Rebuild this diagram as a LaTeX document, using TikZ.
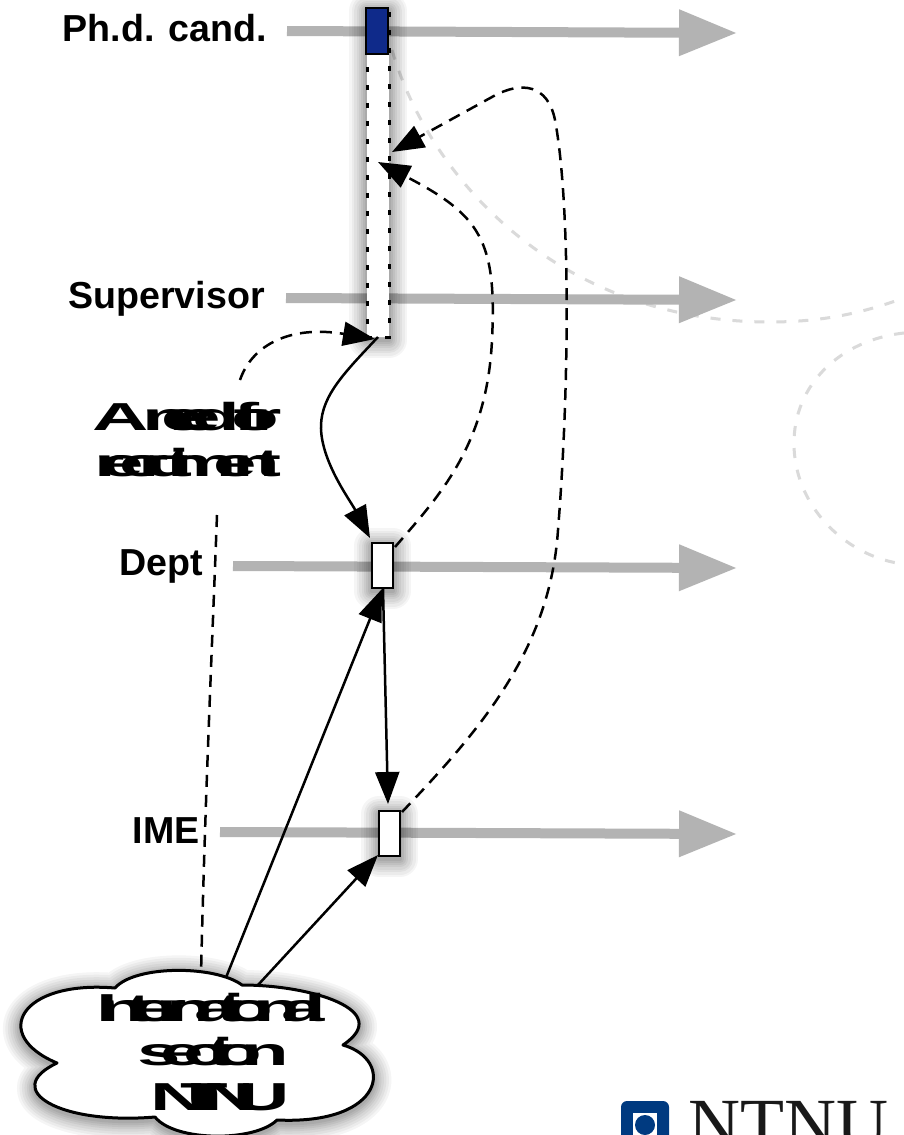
\documentclass[tikz,border=0pt]{standalone}
\usepackage{fontspec}
\usepackage{graphicx}
\setmainfont{Liberation Sans}
\newfontfamily\logofont{Liberation Serif}
\usetikzlibrary{arrows.meta}
\definecolor{flow}{HTML}{B3B3B3}
\definecolor{faint}{HTML}{DADADA}
\definecolor{actblue}{HTML}{0F2A8A}
\definecolor{ntnublue}{HTML}{003A80}
\newcommand{\squeezed}[2]{\scalebox{2}[1]{\addfontfeature{LetterSpace=#1}#2}}
\tikzset{
  x=1pt,y=-1pt,
  softshadow/.style={
    preaction={draw=black,solid,draw opacity=.04,line width=36pt,line join=round,transform canvas={yshift=-3pt}},
    preaction={draw=black,solid,draw opacity=.04,line width=31pt,line join=round,transform canvas={yshift=-3pt}},
    preaction={draw=black,solid,draw opacity=.045,line width=26pt,line join=round,transform canvas={yshift=-3pt}},
    preaction={draw=black,solid,draw opacity=.045,line width=21pt,line join=round,transform canvas={yshift=-3pt}},
    preaction={draw=black,solid,draw opacity=.05,line width=16pt,line join=round,transform canvas={yshift=-3pt}},
    preaction={draw=black,solid,draw opacity=.05,line width=12pt,line join=round,transform canvas={yshift=-3pt}},
    preaction={draw=black,solid,draw opacity=.055,line width=8pt,line join=round,transform canvas={yshift=-3pt}},
    preaction={draw=black,solid,draw opacity=.06,line width=4pt,line join=round,transform canvas={yshift=-3pt}}},
  flowarrow/.style={draw=flow,line width=10pt,-{Triangle[length=58pt,width=44pt,fill=flow]}},
  faintline/.style={draw=faint,line width=3pt,dash pattern=on 10pt off 12pt},
  msg/.style={draw=black,line width=2.5pt,-{Triangle[length=32pt,width=24pt,fill=black]}},
  dashmsg/.style={msg,dash pattern=on 12pt off 8pt},
  actbox/.style={draw=black,fill=white,line width=2.5pt,inner sep=0pt,minimum width=21pt,minimum height=45pt,rectangle,softshadow},
  rolelabel/.style={font=\fontsize{37.6}{37.6}\selectfont\bfseries,inner sep=0pt,anchor=base east},
  squeezelabel/.style={font=\fontsize{39}{39}\selectfont\bfseries,inner sep=0pt,anchor=base},
}
\begin{document}
\begin{tikzpicture}
\path[use as bounding box,clip] (0,0) rectangle (904,1135);
\fill[white] (0,0) rectangle (904,1135);

% faint background curves
\draw[faintline] (392,50) .. controls (430,180) and (560,322) .. (770,322) .. controls (830,322) and (870,310) .. (904,298);
\draw[faintline] (904,333) .. controls (840,340) and (793,385) .. (794,445) .. controls (795,510) and (850,558) .. (904,564);

% labels
\node[rolelabel] (phd) at (267,41) {Ph.d. cand.};
\node[rolelabel] (sup) at (265,308) {Supervisor};
\node[rolelabel] (dep) at (203,575) {Dept};
\node[rolelabel] (ime) at (200,843) {IME};

% lifelines
\coordinate (phdS) at (287,31); \coordinate (phdE) at (737,33);
\coordinate (supS) at (286,298); \coordinate (supE) at (737,300);
\coordinate (depS) at (233,566); \coordinate (depE) at (737,568);
\coordinate (imeS) at (220,832); \coordinate (imeE) at (737,834);
\draw[flowarrow] (phdS) -- (phdE);
\draw[flowarrow] (supS) -- (supE);
\draw[flowarrow] (depS) -- (depE);
\draw[flowarrow] (imeS) -- (imeE);

% activation boxes
\node[actbox,draw=none,minimum width=22pt,minimum height=329pt] (actshadow) at (378,172.5) {};
\node[draw=black,fill=white,line width=3pt,dash pattern=on 5pt off 13pt,inner sep=0pt,minimum width=22pt,minimum height=329pt] (act) at (378,172.5) {};
\node[draw=black,fill=actblue,line width=2.5pt,inner sep=0pt,minimum width=22pt,minimum height=46pt] (cand) at (377,31) {};
\node[actbox] (deptbox) at (382.5,565.5) {};
\node[actbox] (imebox) at (389.5,833.5) {};

% free ends
\coordinate (reqTop) at (240,380);
\coordinate (reqBottom) at (217,515);
\coordinate (cloudA) at (201,975);
\coordinate (cloudB) at (225,980);
\coordinate (cloudC) at (258,985);
\coordinate (actBottom) at (378,337);
\coordinate (actIn) at (375,339);
\coordinate (actMid) at (378,162);
\coordinate (actHigh) at (392,152);
\coordinate (deptTop) at (370,538);
\coordinate (deptBot) at (382,589);
\coordinate (deptOut) at (395,547);
\coordinate (imeTop) at (388,804);
\coordinate (imeOut) at (402,812);
\coordinate (imeIn) at (378,855);
\coordinate (deptDown) at (383,589);

% connectors
\draw[msg] (actBottom) .. controls (345,372) and (322,395) .. (321,425) .. controls (320,460) and (350,500) .. (deptTop);
\draw[msg] (deptDown) -- (imeTop);
\draw[msg] (cloudB) -- (deptBot);
\draw[msg] (cloudC) -- (imeIn);
\draw[dashmsg] (deptOut) .. controls (440,495) and (487,445) .. (492,340) .. controls (497,240) and (480,215) .. (actMid);
\draw[dashmsg] (imeOut) .. controls (480,730) and (550,650) .. (558,530) .. controls (570,380) and (570,200) .. (555,120) .. controls (548,85) and (522,80) .. (492,97) -- (actHigh);
\draw[dashmsg] (reqTop) .. controls (252,345) and (290,325) .. (actIn);
\draw[draw=black,line width=2.5pt,dash pattern=on 12pt off 8pt] (reqBottom) .. controls (212,650) and (205,800) .. (cloudA);

% request text
\node[squeezelabel] (req1) at (187,430) {\squeezed{-36}{A need for}};
\node[squeezelabel] (req2) at (188,476) {\squeezed{-31}{recruitment}};

% cloud
\path[softshadow,draw=black,fill=white,line width=3pt,line join=round]
  (115,988) .. controls (135,965) and (215,965) .. (242,985)
  .. controls (310,985) and (395,1010) .. (343,1045)
  .. controls (395,1060) and (385,1125) .. (277,1120)
  .. controls (255,1142) and (175,1142) .. (155,1117)
  .. controls (60,1125) and (0,1090) .. (57,1063)
  .. controls (-10,1035) and (20,980) .. (115,988) -- cycle;
\node[squeezelabel] (cl1) at (211.5,1021) {\squeezed{-25.5}{International}};
\node[squeezelabel] (cl2) at (213.5,1065) {\squeezed{-26}{section}};
\node[squeezelabel] (cl3) at (220,1110) {\squeezed{-33}{NTNU}};

% logo
\fill[ntnublue,rounded corners=6pt] (621,1101) rectangle (669,1150);
\fill[white] (633,1113) rectangle (657,1150);
\fill[ntnublue] (645,1125) circle (10);
\node[font=\logofont\fontsize{72}{72}\selectfont,text=black!90,inner sep=0pt,anchor=base west] (logotext) at (688,1148) {NTNU};
\end{tikzpicture}
\end{document}
